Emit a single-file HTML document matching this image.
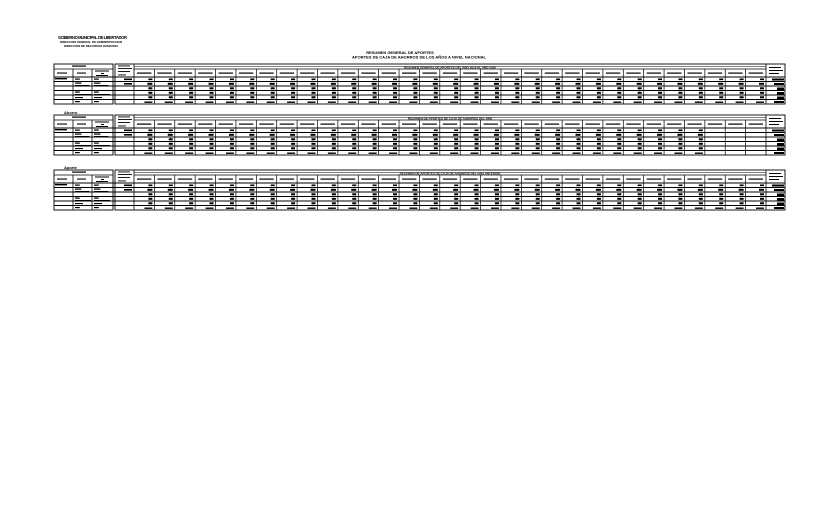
<!DOCTYPE html>
<html><head><meta charset="utf-8"><style>
html,body{margin:0;padding:0;background:#fff;width:840px;height:510px;overflow:hidden}
svg{display:block}
text{font-family:"Liberation Sans",sans-serif;font-weight:bold;fill:#000}
</style></head><body>
<svg id="s" width="840" height="510" viewBox="0 0 840 510" xmlns="http://www.w3.org/2000/svg">
<text x="58" y="39" font-size="4.2" textLength="69">GOBIERNO MUNICIPAL DE LIBERTADOR</text>
<text x="60" y="43" font-size="3" textLength="62">DIRECCION GENERAL DE ADMINISTRACION</text>
<text x="64" y="47" font-size="3" textLength="54">DIRECCION DE RECURSOS HUMANOS</text>
<text x="400" y="54" font-size="4" text-anchor="middle">RESUMEN GENERAL DE APORTES</text>
<text x="419" y="58.5" font-size="4" text-anchor="middle" textLength="134">APORTES DE CAJA DE AHORROS DE LOS AÑOS A NIVEL NACIONAL</text>
<text x="64" y="114" font-size="4">Ahorro</text>
<text x="64" y="169" font-size="4">Aporte</text>
</svg>
<script>
var s=document.getElementById('s'),NS='http://www.w3.org/2000/svg';
function el(t,a,txt){var e=document.createElementNS(NS,t);for(var k in a)e.setAttribute(k,a[k]);if(txt)e.textContent=txt;s.appendChild(e);return e;}
function ln(x1,y1,x2,y2,w){el('line',{x1:x1,y1:y1,x2:x2,y2:y2,stroke:'#000','stroke-width':w||0.8});}
function bl(x,y,w,h){el('rect',{x:x,y:y,width:w,height:h,fill:'#000'});}
var cw=(766-134)/31;
function table(T,filled,title){
  var B=T+40;
  el('rect',{x:54,y:T,width:59,height:40,fill:'none',stroke:'#000','stroke-width':0.9});
  el('rect',{x:115,y:T,width:670,height:40,fill:'none',stroke:'#000','stroke-width':0.9});
  ln(54,T+5,113,T+5);ln(134,T+5,766,T+5);
  ln(134,T+2.5,766,T+2.5,0.5);
  ln(54,T+13,785,T+13,1);
  ln(73,T+5,73,B);ln(92,T+5,92,B);ln(134,T,134,B);ln(766,T,766,B);
  bl(72,T+1.5,14,1.2);
  bl(57,T+8.5,10,1.1);bl(77,T+8.5,9,1.1);bl(95,T+6.5,14,1);bl(101,T+9,3,1);bl(96,T+11,12,1);
  bl(118,T+1.5,12,0.9);bl(118,T+4,14,0.9);bl(118,T+7,12,0.9);bl(118,T+10.5,8,0.9);
  bl(769,T+3,12,1);bl(769,T+6,14,1);bl(769,T+9,10,1);
  if(title){el('text',{x:450,y:T+4.5,'font-size':3,'text-anchor':'middle'},title);}
  var ys=[13,17.5,22,26.5,31,35.5,40];
  for(var r=1;r<6;r++)ln(54,T+ys[r],785,T+ys[r],0.9);
  for(var i=0;i<31;i++){
    var x=134+i*cw;
    if(i>0)ln(x,T+5,x,B,0.7);
    bl(x+3,T+8.5,cw-6,1.2);
    if(i<filled){
      bl(x+cw-6,T+14.5,4,1.6);
      bl(x+cw-7,T+18.8,5,2);
      bl(x+cw-6,T+23.3,4,2);
      bl(x+cw-6,T+27.8,4,2);
      bl(x+cw-6,T+32.3,4,2);
      bl(x+cw-10,T+37.5,8,1.4);
    }
  }
  bl(55,T+14,12,1.4);
  var lx=[[75,8],[94,8]];
  lx.forEach(function(p){bl(p[0],T+14.5,p[1]*0.6,1.2);bl(p[0],T+18.5,p[1]*0.8,1.2);bl(p[0],T+21,p[1]*1.8,1.1);bl(p[0],T+27.5,p[1]*0.6,1.2);bl(p[0],T+30,p[1]*2,1.1);bl(p[0],T+33,p[1],1.1);bl(p[0],T+37,p[1]*0.6,1.2);});
  bl(124,T+14.5,8,1.6);bl(124,T+19,8,1.6);
  bl(772,T+14.5,12,2);bl(774,T+19,10,2);bl(777,T+23.5,7,2.5);bl(777,T+28,7,2.5);bl(777,T+32.5,7,2.5);bl(774,T+37,10,2);
}
table(64,31,'RESUMEN GENERAL DE APORTES DEL AÑO 2019 AL AÑO 2020');
table(115,28,'RESUMEN DE APORTES DE CAJA DE AHORROS DEL AÑO');
table(170,31,'RESUMEN DE APORTES DE CAJA DE AHORROS DEL AÑO ANTERIOR');
</script>
</body></html>
